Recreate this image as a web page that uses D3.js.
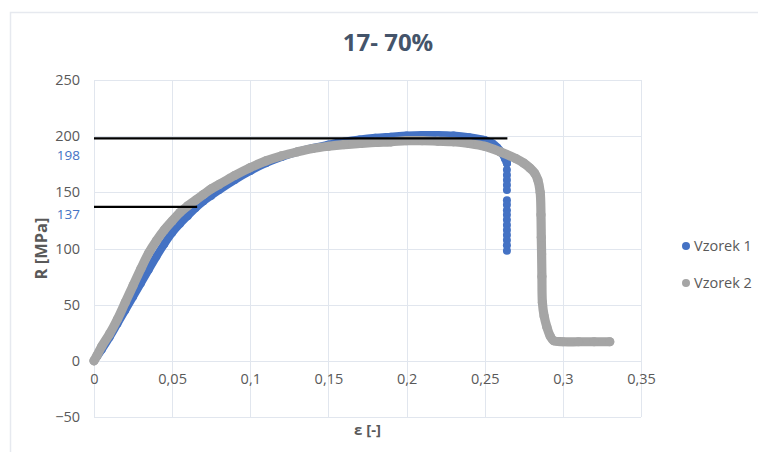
<!DOCTYPE html>
<html>
<head>
<meta charset="utf-8">
<script src="https://cdn.jsdelivr.net/npm/d3@7"></script>
<style>
  html, body { margin: 0; padding: 0; background: #fff; }
  svg { display: block; font-family: "Open Sans", "Liberation Sans", sans-serif; }
</style>
</head>
<body>
<svg id="chart" width="758" height="452"></svg>
<script>
// Tensile test 17- 70%: stress R [MPa] versus strain ε [-] for two specimens
const chartTitle = "17- 70%";
const xTicks = [0, 0.05, 0.1, 0.15, 0.2, 0.25, 0.3, 0.35];
const yTicks = [-50, 0, 50, 100, 150, 200, 250];
const seriesNames = ["Vzorek 1", "Vzorek 2"];

// Vzorek 1 – main curve
const v1Strain = [0, 0.002, 0.005, 0.01, 0.015, 0.02, 0.025, 0.03, 0.035, 0.04, 0.045, 0.05, 0.055, 0.06,
  0.065, 0.07, 0.075, 0.08, 0.09, 0.1, 0.11, 0.12, 0.13, 0.14, 0.15, 0.16, 0.17, 0.18, 0.19, 0.2,
  0.21, 0.22, 0.23, 0.24, 0.25, 0.255, 0.258, 0.261, 0.263, 0.2642];
const v1Stress = [0, 4, 10, 21, 33, 45, 57, 69, 81, 93, 104, 114, 122, 129,
  136, 142, 147, 152, 161, 169, 176, 181.5, 186, 189.5, 192.5, 195, 197, 198.5, 199.5, 200.5,
  201, 201, 200.5, 199, 196.5, 193.5, 190, 185, 180, 176];
// Vzorek 1 – fracture drop, single strain value
const v1DropStrain = 0.2642;
const v1DropStress = [176, 170, 165.5, 161, 156.6, 152, 143, 139, 134, 130, 125.5, 121, 116.5, 112, 107.5, 103, 98];

// Vzorek 2
const v2Strain = [0, 0.002, 0.005, 0.01, 0.015, 0.02, 0.025, 0.03, 0.035, 0.04, 0.045, 0.05, 0.055, 0.06,
  0.065, 0.07, 0.075, 0.08, 0.09, 0.1, 0.11, 0.12, 0.13, 0.14, 0.15, 0.16, 0.17, 0.18, 0.19, 0.2,
  0.21, 0.22, 0.23, 0.24, 0.25, 0.26, 0.27, 0.275, 0.279, 0.282, 0.284, 0.2855, 0.286, 0.2862,
  0.2864, 0.2866, 0.2869, 0.288, 0.2898, 0.2919, 0.294, 0.3, 0.31, 0.32, 0.33];
const v2Stress = [0, 5, 13, 24, 37, 52, 67, 82, 96, 107, 116.5, 124.5, 132, 138,
  143, 148, 153, 157, 165, 172, 178, 182.5, 186, 189, 191, 192.5, 193.5, 194.5, 195, 196,
  196, 195.5, 195, 193.5, 191, 186, 180, 176, 171.5, 167, 161, 150, 130, 110,
  95, 75, 52, 40, 30, 22, 18, 17, 17, 17, 17];

// Horizontal reference levels with their stated values
const refValues = [198, 137];
const refEndStrain = [0.2645, 0.066];

const colors = { v1: "#4472C4", v2: "#A5A5A5" };

const svg = d3.select("#chart");

// chart frame
svg.append("rect").attr("x", 10.5).attr("y", 12.5).attr("width", 800).attr("height", 500)
  .attr("fill", "#fff").attr("stroke", "#E6E9EF").attr("stroke-width", 1.5);

const x = d3.scaleLinear().domain([0, 0.35]).range([94, 641]);
const y = d3.scaleLinear().domain([-50, 250]).range([417, 80]);

// gridlines
const grid = svg.append("g").attr("stroke", "#E1E6EE").attr("stroke-width", 1);
grid.selectAll("line.h").data(yTicks).join("line")
  .attr("x1", x(0)).attr("x2", x(0.35))
  .attr("y1", d => Math.round(y(d)) + 0.5).attr("y2", d => Math.round(y(d)) + 0.5);
grid.selectAll("line.v").data(xTicks).join("line")
  .attr("y1", y(250)).attr("y2", y(-50))
  .attr("x1", d => Math.round(x(d)) + 0.5).attr("x2", d => Math.round(x(d)) + 0.5);

// axis labels
const yAxis = svg.append("g").attr("transform", `translate(${x(0)},0)`)
  .call(d3.axisLeft(y).tickValues(yTicks).tickSize(0).tickPadding(14).tickFormat(d3.format("d")));
yAxis.select(".domain").remove();
yAxis.selectAll("text").attr("fill", "#595959").attr("font-size", 14.5)
  .attr("font-family", "'Open Sans', sans-serif");

const commaFmt = d => String(d).replace(".", ",");
const xAxis = svg.append("g").attr("transform", `translate(0,${y(0)})`)
  .call(d3.axisBottom(x).tickValues(xTicks).tickSize(0).tickPadding(13).tickFormat(commaFmt));
xAxis.select(".domain").remove();
xAxis.selectAll("text").attr("fill", "#595959").attr("font-size", 14.5)
  .attr("font-family", "'Open Sans', sans-serif");

// series drawing: thick stroke through the points plus a marker at each point
function drawSeries(xs, ys, color, r) {
  const pts = xs.map((d, i) => [x(d), y(ys[i])]);
  const g = svg.append("g");
  g.append("path").datum(pts)
    .attr("d", d3.line().curve(d3.curveCatmullRom.alpha(0.5)))
    .attr("fill", "none").attr("stroke", color).attr("stroke-width", 2 * r)
    .attr("stroke-linejoin", "round").attr("stroke-linecap", "round");
  g.selectAll("circle").data(pts).join("circle")
    .attr("cx", d => d[0]).attr("cy", d => d[1]).attr("r", r).attr("fill", color);
  return g;
}

drawSeries(v1Strain, v1Stress, colors.v1, 4);
svg.append("g").selectAll("circle").data(v1DropStress).join("circle")
  .attr("cx", x(v1DropStrain)).attr("cy", d => y(d)).attr("r", 4).attr("fill", colors.v1);
drawSeries(v2Strain, v2Stress, colors.v2, 4.6);

// reference lines
svg.append("g").selectAll("line").data(refValues).join("line")
  .attr("x1", x(0)).attr("x2", (d, i) => x(refEndStrain[i]))
  .attr("y1", d => y(d)).attr("y2", d => y(d))
  .attr("stroke", "#000").attr("stroke-width", 2.2);

// value labels for the reference lines (198 sits just under the 200 tick label)
const refLabelY = [y(200) + 19, y(refValues[1]) + 7];
svg.append("g").selectAll("text").data(refValues).join("text")
  .attr("x", 80).attr("y", (d, i) => refLabelY[i]).attr("dy", "0.35em")
  .attr("text-anchor", "end").attr("fill", colors.v1).attr("font-size", 13.5)
  .text(d => d);

// title
svg.append("text").attr("x", 388).attr("y", 51).attr("text-anchor", "middle")
  .attr("font-size", 24).attr("font-weight", "bold").attr("fill", "#44546A")
  .text(chartTitle);

// axis titles
svg.append("text").attr("transform", `translate(47,${(y(250) + y(-50)) / 2}) rotate(-90)`)
  .attr("text-anchor", "middle").attr("font-size", 16.5).attr("font-weight", "bold")
  .attr("fill", "#595959").text("R [MPa]");
svg.append("text").attr("x", (x(0) + x(0.35)) / 2).attr("y", 435)
  .attr("text-anchor", "middle").attr("font-size", 15).attr("font-weight", "bold")
  .attr("fill", "#595959").text("ε [-]");

// legend
const legend = svg.append("g");
const legendY = [246, 283];
const legendColors = [colors.v1, colors.v2];
legend.selectAll("circle").data(seriesNames).join("circle")
  .attr("cx", 686).attr("cy", (d, i) => legendY[i]).attr("r", 4)
  .attr("fill", (d, i) => legendColors[i]);
legend.selectAll("text").data(seriesNames).join("text")
  .attr("x", 694).attr("y", (d, i) => legendY[i]).attr("dy", "0.35em")
  .attr("font-size", 14.5).attr("fill", "#595959").text(d => d);
</script>
</body>
</html>
